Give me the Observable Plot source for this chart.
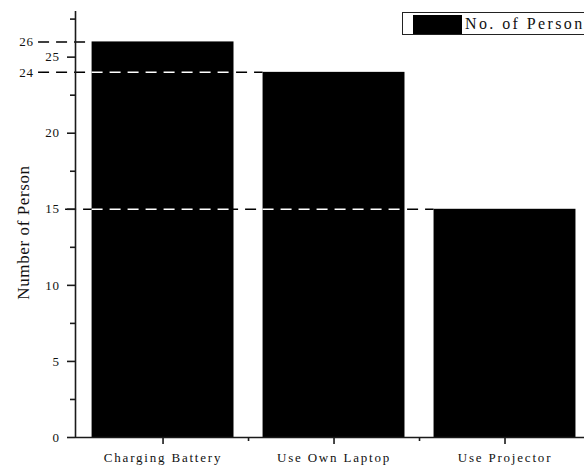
<!DOCTYPE html>
<html><head><meta charset="utf-8">
<script src="https://cdn.jsdelivr.net/npm/d3@7"></script>
<script src="https://cdn.jsdelivr.net/npm/@observablehq/plot@0.6"></script>
<style>
html,body{margin:0;padding:0;background:#fff;overflow:hidden;}
#wrap{position:relative;width:584px;height:471px;overflow:hidden;}
#wrap svg{position:absolute;left:0;top:0;}
.legend{position:absolute;left:402px;top:12px;width:220px;height:21px;border:1.5px solid #222;background:#fff;}
.legend .sw{position:absolute;left:10px;top:2px;width:49px;height:19px;background:#000;}
.legend .tx{position:absolute;left:62px;top:0px;font-family:"Liberation Serif","Times New Roman",serif;font-size:16px;letter-spacing:2.4px;line-height:21px;color:#111;white-space:nowrap;}
</style></head>
<body>
<div id="wrap"></div>
<script>
const categories = ["Charging Battery", "Use Own Laptop", "Use Projector"];
const values = [26, 24, 15];
const refValues = [26, 24, 15];
const yTicks = [0, 5, 10, 15, 20, 25];
const yMinorTicks = [2.5, 7.5, 12.5, 17.5, 22.5, 27.5];
const seriesName = "No. of Person";
const yTitle = "Number of Person";

const HALF = 0.415;      // half bar width in category units
const X_EXTRA = 0.272;   // start of lines with extra labels
const X_TICK = 0.43;     // start of lines at labelled ticks
const DASH = "11,7";
const font = '"Liberation Serif","Times New Roman",serif';

const bars = categories.map((c, k) => ({i: k + 1, c, v: values[k]}));
const refs = refValues.map(v => {
  const target = bars.find(b => b.v === v);
  const extra = !yTicks.includes(v);
  return {v, x1: extra ? X_EXTRA : X_TICK, x2: target.i - HALF, extra};
});
const whiteSegs = [];
refs.forEach(r => bars.forEach(b => {
  if (b.v > r.v && b.i - HALF >= r.x1 && b.i + HALF <= r.x2 + 1e-9)
    whiteSegs.push({v: r.v, x1: b.i - HALF, x2: b.i + HALF});
}));

const chart = Plot.plot({
  width: 584, height: 471,
  marginLeft: 75, marginRight: 0, marginTop: 11, marginBottom: 34,
  style: {fontFamily: font, background: "transparent", overflow: "visible"},
  x: {type: "linear", domain: [0.488, 3.5], range: [75, 590]},
  y: {domain: [0, 28], range: [437, 11]},
  marks: [
    Plot.ruleY(refs, {y: "v", x1: "x1", x2: "x2", stroke: "#000", strokeWidth: 1.5, strokeDasharray: DASH}),
    Plot.rectY(bars, {x1: d => d.i - HALF, x2: d => d.i + HALF, y: "v", fill: "#000"}),
    Plot.ruleY(whiteSegs, {y: "v", x1: "x1", x2: "x2", stroke: "#fff", strokeWidth: 1.5, strokeDasharray: DASH}),
    Plot.text(refs.filter(r => r.extra), {x: "x1", y: "v", text: d => String(d.v), textAnchor: "end", dx: -5, fontSize: 13, fill: "#111"}),
    Plot.ruleX([0.488], {y1: 0, y2: 28, stroke: "#1a1a1a", strokeWidth: 1.6}),
    Plot.ruleY([0], {x1: 0.488, x2: 3.5, stroke: "#1a1a1a", strokeWidth: 1.6}),
    Plot.axisY(yTicks, {tickSize: 8, tickPadding: 8, fontSize: 13, label: null, stroke: "#1a1a1a", strokeWidth: 1.6, fill: "#111"}),
    Plot.axisY(yMinorTicks, {tickSize: 5, tickFormat: () => "", label: null, stroke: "#1a1a1a", strokeWidth: 1.6}),
    Plot.axisX([1, 2, 3], {tickSize: 7, tickPadding: 8, fontSize: 13, label: null, stroke: "#1a1a1a", strokeWidth: 1.6, fill: "#111",
      tickFormat: d => categories[d - 1]}),
    Plot.axisX([1.5, 2.5], {tickSize: 4, tickFormat: () => "", label: null, stroke: "#1a1a1a", strokeWidth: 1.6}),
    Plot.text([yTitle], {frameAnchor: "left", textAnchor: "middle", dx: -52, dy: 8, rotate: -90, fontSize: 17, fill: "#111"})
  ]
});
chart.querySelectorAll("text").forEach(t => t.style.letterSpacing = "0.6px");
chart.querySelectorAll('[aria-label="x-axis tick label"] text').forEach(t => t.style.letterSpacing = "1.8px");
const wrap = document.getElementById("wrap");
wrap.appendChild(chart);
const leg = document.createElement("div");
leg.className = "legend";
leg.innerHTML = '<div class="sw"></div><div class="tx"></div>';
leg.querySelector(".tx").textContent = seriesName;
wrap.appendChild(leg);
</script>
</body></html>
